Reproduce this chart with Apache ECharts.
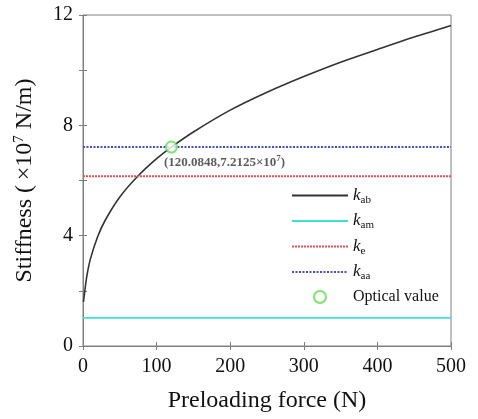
<!DOCTYPE html>
<html>
<head>
<meta charset="utf-8">
<script src="https://cdn.jsdelivr.net/npm/echarts@6/dist/echarts.min.js"></script>
<style>
  html, body { margin: 0; padding: 0; background: #fff; }
  #chart-container { width: 478px; height: 419px; }
</style>
</head>
<body>
<div id="chart-container"></div>
<script>
// values (stiffness in 1e7 N/m)
var forceN = [0.6, 2, 5, 10, 20, 30, 50, 75, 100, 120.0848, 150, 200, 250, 300, 350, 400, 450, 500];
var kAb = [1.6, 1.9, 2.5, 3.15, 3.97, 4.55, 5.4, 6.17, 6.79, 7.2125, 7.76, 8.55, 9.2, 9.77, 10.29, 10.75, 11.2, 11.62];
var kAm = 1.02;
var kE = 6.15;
var kAa = 7.2125;
var optical = [120.0848, 7.2125];
var xTicks = [0, 100, 200, 300, 400, 500];
var yTicks = [0, 4, 8, 12];

var serif = '"Liberation Serif", "DejaVu Serif", serif';

var dom = document.getElementById('chart-container');
var myChart = echarts.init(dom, null, { renderer: 'canvas' });

function flat(v) { return [[0, v], [500, v]]; }

var noSymbol = { opacity: 0 };

var option = {
  animation: false,
  grid: { left: 83, right: 27, top: 15, bottom: 73, show: true, borderColor: '#808080', borderWidth: 1 },
  xAxis: [{
    type: 'value', min: 0, max: 500, interval: 100,
    name: 'Preloading force (N)', nameLocation: 'middle', nameGap: 43,
    nameTextStyle: { fontFamily: serif, fontSize: 24, color: '#111' },
    axisLine: { show: true, lineStyle: { color: '#808080' } },
    axisTick: { inside: true, length: 4, lineStyle: { color: '#808080' } },
    axisLabel: { fontFamily: serif, fontSize: 20, color: '#111', margin: 11,
      formatter: function (v) { return xTicks.indexOf(v) >= 0 ? String(v) : ''; } },
    splitLine: { show: false }
  }, {
    type: 'value', min: 0, max: 500, interval: 100, position: 'top',
    axisLine: { show: false }, axisLabel: { show: false },
    axisTick: { inside: true, length: 4, lineStyle: { color: '#808080' } },
    splitLine: { show: false }
  }],
  yAxis: [{
    type: 'value', min: 0, max: 12, interval: 2,
    name: 'Stiffness (\u2009×10{sup|7} N/m)', nameLocation: 'middle', nameGap: 45, nameRotate: 90,
    nameTextStyle: { fontFamily: serif, fontSize: 24, color: '#111',
      rich: { sup: { fontFamily: serif, fontSize: 15, color: '#111', padding: [0, 0, 11, 0] } } },
    axisLine: { show: true, lineStyle: { color: '#808080' } },
    axisTick: { inside: true, length: 4, lineStyle: { color: '#808080' } },
    axisLabel: { fontFamily: serif, fontSize: 20, color: '#111', margin: 10,
      formatter: function (v) { return yTicks.indexOf(v) >= 0 ? String(v) : ''; } },
    splitLine: { show: false }
  }, {
    type: 'value', min: 0, max: 12, interval: 2, position: 'right',
    axisLine: { show: false }, axisLabel: { show: false },
    axisTick: { inside: true, length: 4, lineStyle: { color: '#808080' } },
    splitLine: { show: false }
  }],
  legend: {
    orient: 'vertical', left: 286, top: 182,
    itemWidth: 56, itemHeight: 12, itemGap: 7, itemTextGap: 8,
    data: [
      { name: 'kab', itemStyle: noSymbol },
      { name: 'kam', itemStyle: noSymbol },
      { name: 'ke', itemStyle: noSymbol },
      { name: 'kaa', itemStyle: noSymbol },
      { name: 'Optical value' }
    ],
    textStyle: { fontFamily: serif, fontSize: 16, color: '#111',
      rich: {
        i: { fontFamily: serif, fontSize: 17, fontStyle: 'italic', color: '#111' },
        s: { fontFamily: serif, fontSize: 11, color: '#111', padding: [9, 0, 0, 0] }
      } },
    formatter: function (n) {
      return n === 'Optical value' ? n : '{i|k}{s|' + n.slice(1) + '}';
    }
  },
  series: [
    { name: 'kab', type: 'line', smooth: 0.3, symbol: 'none',
      data: forceN.map(function (f, i) { return [f, kAb[i]]; }),
      lineStyle: { color: '#333', width: 1.6 }, itemStyle: { color: '#333' } },
    { name: 'kam', type: 'line', symbol: 'none', data: flat(kAm),
      lineStyle: { color: '#3fe0dc', width: 1.6 }, itemStyle: { color: '#3fe0dc' } },
    { name: 'ke', type: 'line', symbol: 'none', data: flat(kE),
      lineStyle: { color: '#e8505c', width: 2, type: [2, 1] }, itemStyle: { color: '#e8505c' } },
    { name: 'kaa', type: 'line', symbol: 'none', data: flat(kAa),
      lineStyle: { color: '#4a4ad8', width: 2, type: [2, 1.5] }, itemStyle: { color: '#4a4ad8' } },
    { name: 'Optical value', type: 'scatter', symbol: 'emptyCircle', symbolSize: 11,
      data: [optical],
      itemStyle: { color: '#5ddc4a', borderWidth: 2.5 },
      label: { show: true, position: [-1, 14],
        fontFamily: serif, fontSize: 13, fontWeight: 'bold', color: '#333',
        formatter: '(120.0848,7.2125×10{sup|7})',
        rich: { sup: { fontFamily: serif, fontSize: 9, fontWeight: 'bold', color: '#333', padding: [0, 0, 7, 0] } } },
      z: 5 }
  ]
};

myChart.setOption(option);
window.addEventListener('resize', myChart.resize);
</script>
</body>
</html>
